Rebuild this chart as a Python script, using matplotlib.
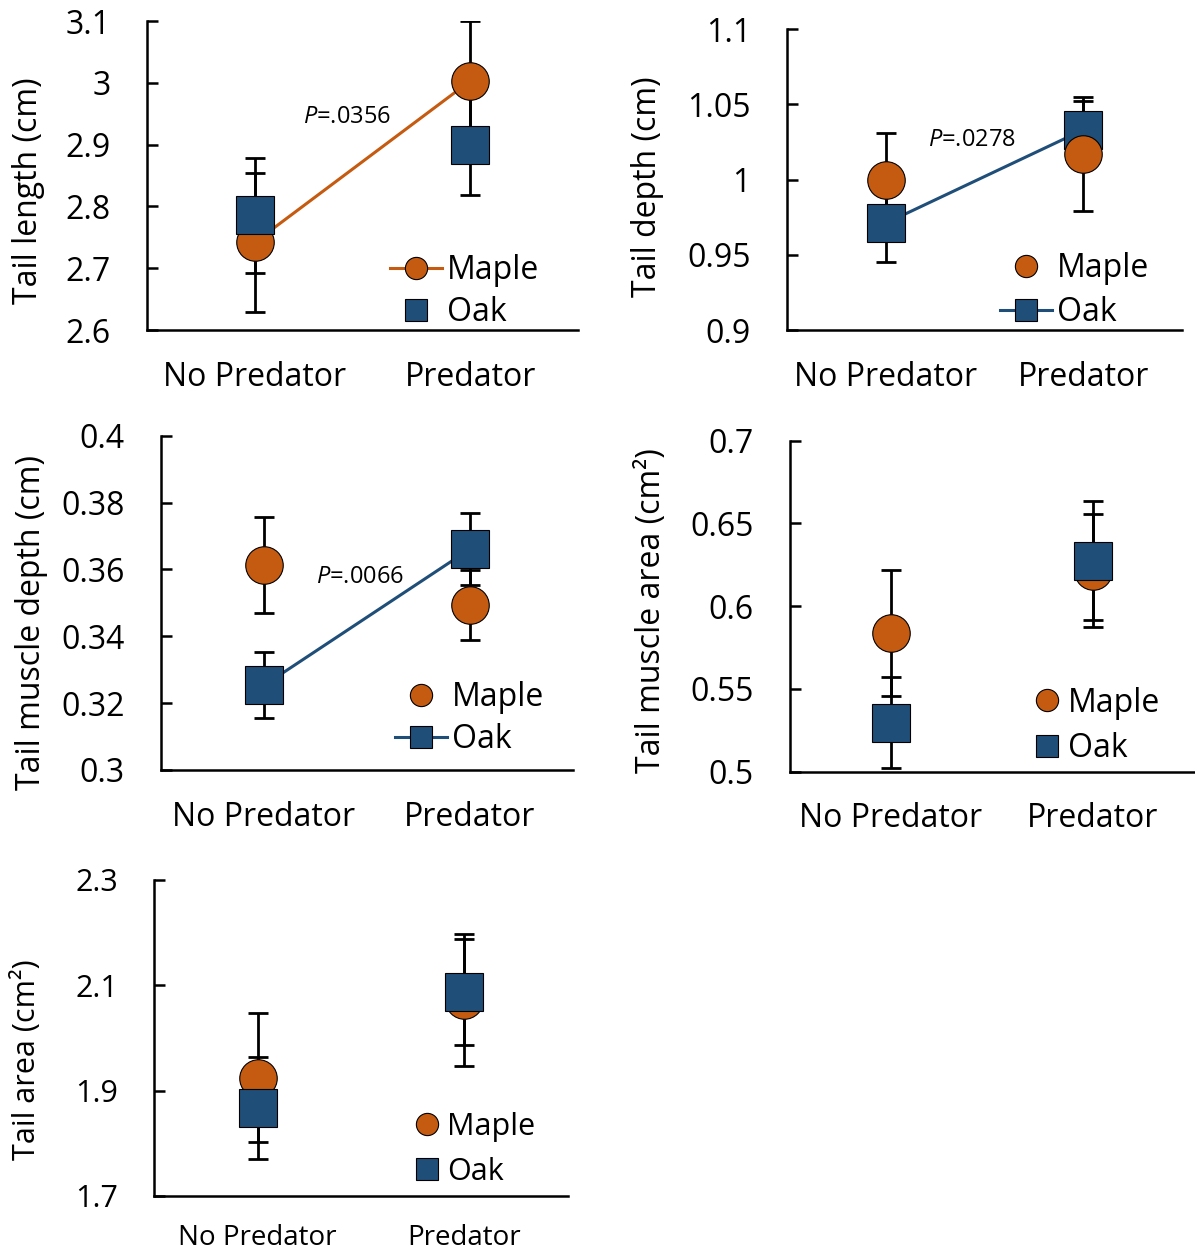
import matplotlib
matplotlib.use('Agg')
import matplotlib.pyplot as plt
from matplotlib.lines import Line2D
from matplotlib.ticker import FuncFormatter

plt.rcParams['font.family'] = ['Open Sans', 'DejaVu Sans']
plt.rcParams['mathtext.fontset'] = 'custom'
plt.rcParams['mathtext.it'] = 'Open Sans:italic'
plt.rcParams['mathtext.rm'] = 'Open Sans'

ORANGE = '#C55A11'
BLUE = '#1F4E79'

groups = ['No Predator', 'Predator']

# means and standard errors
tail_length_maple = [2.742, 3.003]
tail_length_maple_se = [0.112, 0.097]
tail_length_oak = [2.786, 2.900]
tail_length_oak_se = [0.093, 0.082]

tail_depth_maple = [1.000, 1.017]
tail_depth_maple_se = [0.031, 0.038]
tail_depth_oak = [0.971, 1.033]
tail_depth_oak_se = [0.026, 0.019]

muscle_depth_maple = [0.3614, 0.3494]
muscle_depth_maple_se = [0.0144, 0.0105]
muscle_depth_oak = [0.3253, 0.3661]
muscle_depth_oak_se = [0.0099, 0.0108]

muscle_area_maple = [0.5839, 0.6215]
muscle_area_maple_se = [0.0380, 0.0340]
muscle_area_oak = [0.5296, 0.6275]
muscle_area_oak_se = [0.0275, 0.0360]

tail_area_maple = [1.9247, 2.072]
tail_area_maple_se = [0.122, 0.125]
tail_area_oak = [1.867, 2.087]
tail_area_oak_se = [0.0965, 0.100]

fig = plt.figure(figsize=(11.95, 12.53), dpi=100)


def panel(rect, maple, maple_se, oak, oak_se, yticks, ylabel, line, p_text,
          p_pos, leg_pos, leg_space, label_xy, oak_on_top=True, small=False,
          handlelen=1.63, textpad=0.15):
    ax = fig.add_axes(rect)
    x = [0, 1]
    z_maple, z_oak = (3, 4) if oak_on_top else (4, 3)
    ax.errorbar(x, maple, yerr=maple_se, fmt='none', ecolor='black',
                elinewidth=2.0, capsize=7, capthick=2.0, zorder=2)
    ax.errorbar(x, oak, yerr=oak_se, fmt='none', ecolor='black',
                elinewidth=2.0, capsize=7, capthick=2.0, zorder=2)
    ax.plot(x, maple, linestyle='-' if line == 'maple' else 'none',
            color=ORANGE, lw=2.2, marker='o', ms=27, mfc=ORANGE, mec='black',
            mew=0.8, zorder=z_maple)
    ax.plot(x, oak, linestyle='-' if line == 'oak' else 'none',
            color=BLUE, lw=2.2, marker='s', ms=27, mfc=BLUE, mec='black',
            mew=0.8, zorder=z_oak)

    ax.set_xlim(-0.5, 1.5)
    ax.set_ylim(yticks[0], yticks[-1])
    ax.set_xticks(x)
    ax.set_xticklabels(groups)
    ax.set_yticks(yticks)
    ax.yaxis.set_major_formatter(FuncFormatter(lambda v, p: '{:g}'.format(round(v, 4))))
    for s in ['top', 'right']:
        ax.spines[s].set_visible(False)
    for s in ['left', 'bottom']:
        ax.spines[s].set_linewidth(1.8)
    ax.tick_params(axis='y', direction='in', length=8, width=1.8,
                   labelsize=22 if small else 23, pad=26)
    ax.tick_params(axis='x', length=0, labelsize=20 if small else 23,
                   pad=20 if small else 22)
    ax.set_ylabel(ylabel, fontsize=23 if not small else 22)
    ax.yaxis.set_label_coords(*label_xy)

    if p_text:
        ax.text(p_pos[0], p_pos[1], r'$\it{P}$' + p_text, fontsize=17,
                ha='center', va='center')

    h_maple = Line2D([], [], color=ORANGE, lw=2.2,
                     linestyle='-' if line == 'maple' else 'none',
                     marker='o', ms=16, mfc=ORANGE, mec='black', mew=0.8)
    h_oak = Line2D([], [], color=BLUE, lw=2.2,
                   linestyle='-' if line == 'oak' else 'none',
                   marker='s', ms=16, mfc=BLUE, mec='black', mew=0.8)
    ax.legend([h_maple, h_oak], ['Maple', 'Oak'], loc='center left',
              bbox_to_anchor=leg_pos, frameon=False, borderpad=0,
              borderaxespad=0, handlelength=handlelen, handletextpad=textpad,
              labelspacing=leg_space, fontsize=22 if small else 23)
    return ax


panel([0.1230, 0.7366, 0.3607, 0.2466], tail_length_maple, tail_length_maple_se,
      tail_length_oak, tail_length_oak_se, [2.6, 2.7, 2.8, 2.9, 3.0, 3.1],
      'Tail length (cm)', 'maple', '=.0356', (0.428, 2.944), (0.564, 0.125),
      0.27, (-0.236, 0.451), oak_on_top=True)

panel([0.6586, 0.7366, 0.3305, 0.2402], tail_depth_maple, tail_depth_maple_se,
      tail_depth_oak, tail_depth_oak_se, [0.9, 0.95, 1.0, 1.05, 1.1],
      'Tail depth (cm)', 'oak', '=.0278', (0.437, 1.026), (0.539, 0.13),
      0.34, (-0.311, 0.475), oak_on_top=False)

panel([0.1347, 0.3855, 0.3448, 0.2668], muscle_depth_maple, muscle_depth_maple_se,
      muscle_depth_oak, muscle_depth_oak_se, [0.3, 0.32, 0.34, 0.36, 0.38, 0.4],
      'Tail muscle depth (cm)', 'oak', '=.0066', (0.466, 0.3578), (0.568, 0.154),
      0.27, (-0.274, 0.44), oak_on_top=True)

panel([0.6611, 0.3841, 0.3381, 0.2642], muscle_area_maple, muscle_area_maple_se,
      muscle_area_oak, muscle_area_oak_se, [0.5, 0.55, 0.6, 0.65, 0.7],
      'Tail muscle area (cm²)', None, None, None, (0.596, 0.138),
      0.4, (-0.302, 0.486), oak_on_top=True, handlelen=1.0, textpad=0.15)

panel([0.1289, 0.0455, 0.3464, 0.2522], tail_area_maple, tail_area_maple_se,
      tail_area_oak, tail_area_oak_se, [1.7, 1.9, 2.1, 2.3],
      'Tail area (cm²)', None, None, None, (0.622, 0.147),
      0.5, (-0.271, 0.43), oak_on_top=True, small=True, handlelen=1.0,
      textpad=0.15)

fig.savefig('out.png', dpi=100)
